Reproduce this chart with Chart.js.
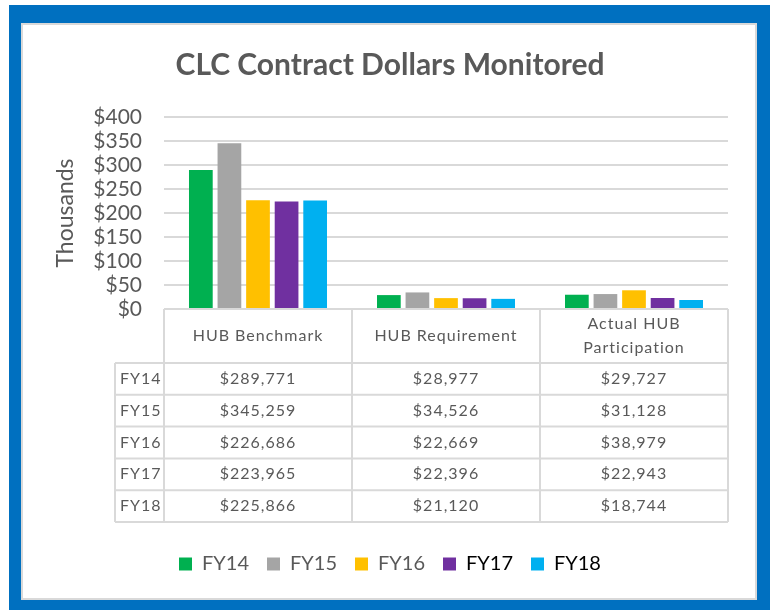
<!DOCTYPE html>
<html>
<head>
<meta charset="utf-8">
<script src="https://cdn.jsdelivr.net/npm/chart.js@4.4.1/dist/chart.umd.min.js"></script>
<style>
  html, body { margin: 0; padding: 0; background: #ffffff; width: 770px; height: 610px; overflow: hidden; }
  #outer { position: absolute; left: 9px; top: 5px; width: 761px; height: 605px; background: #0070C0; }
  #inner { position: absolute; left: 21px; top: 23px; width: 736px; height: 577px; background: #ffffff;
           box-sizing: border-box; border: 2px solid #d9d9d9; }
  #c { position: absolute; left: 0; top: 0; }
</style>
</head>
<body>
<div id="outer"></div>
<div id="inner"></div>
<canvas id="c" width="770" height="610"></canvas>
<script>
// ---- data ----
const categories = ["HUB Benchmark", "HUB Requirement", ["Actual HUB", "Participation"]];
const seriesNames = ["FY14", "FY15", "FY16", "FY17", "FY18"];
const fy14 = [289771, 28977, 29727];
const fy15 = [345259, 34526, 31128];
const fy16 = [226686, 22669, 38979];
const fy17 = [223965, 22396, 22943];
const fy18 = [225866, 21120, 18744];
const yTicks = [0, 50000, 100000, 150000, 200000, 250000, 300000, 350000, 400000];

const seriesValues = [fy14, fy15, fy16, fy17, fy18];
const colors = ["#00B050", "#A5A5A5", "#FFC000", "#7030A0", "#00B0F0"];
const legendTextColors = ["#595959", "#595959", "#595959", "#000000", "#000000"];
const FONT = "Lato, 'Open Sans', sans-serif";

function money(v) { return "$" + v.toLocaleString("en-US"); }

const tablePlugin = {
  id: "dataTable",
  afterDraw(chart) {
    const ctx = chart.ctx;
    const x = chart.scales.x;
    const area = chart.chartArea;
    const top = area.bottom;
    const headerH = 54;
    const rowH = 31.8;
    const labelW = 49;
    const left = area.left, right = area.right;
    const edges = [left];
    for (let i = 0; i < categories.length - 1; i++) edges.push(x.getPixelForValue(i + 0.5));
    edges.push(right);
    const rowsTop = top + headerH;
    const bottom = rowsTop + rowH * seriesNames.length;

    ctx.save();
    ctx.strokeStyle = "#d9d9d9";
    ctx.lineWidth = 2;
    ctx.beginPath();
    ctx.moveTo(left, top); ctx.lineTo(right, top);
    for (let r = 0; r <= seriesNames.length; r++) {
      const y = rowsTop + r * rowH;
      ctx.moveTo(left - labelW, y); ctx.lineTo(right, y);
    }
    edges.forEach(ex => { ctx.moveTo(ex, top); ctx.lineTo(ex, bottom); });
    ctx.moveTo(left - labelW, rowsTop); ctx.lineTo(left - labelW, bottom);
    ctx.stroke();

    ctx.fillStyle = "#595959";
    ctx.textBaseline = "middle";
    try { ctx.letterSpacing = "1px"; } catch (e) {}
    // header (category names)
    ctx.font = "16px " + FONT;
    ctx.textAlign = "center";
    categories.forEach((cat, c) => {
      const lines = Array.isArray(cat) ? cat : [cat];
      const cx = (edges[c] + edges[c + 1]) / 2;
      const cy = top + headerH / 2;
      const lh = 24;
      lines.forEach((ln, k) => {
        ctx.fillText(ln, cx, cy + (k - (lines.length - 1) / 2) * lh);
      });
    });
    // rows
    seriesNames.forEach((name, r) => {
      const cy = rowsTop + r * rowH + rowH / 2;
      ctx.textAlign = "left";
      ctx.fillText(name, left - labelW + 5, cy);
      ctx.textAlign = "center";
      seriesValues[r].forEach((v, c) => {
        ctx.fillText(money(v), (edges[c] + edges[c + 1]) / 2, cy);
      });
    });
    ctx.restore();
  }
};

new Chart(document.getElementById("c"), {
  type: "bar",
  data: {
    labels: categories,
    datasets: seriesNames.map((n, i) => ({
      label: n,
      data: seriesValues[i],
      backgroundColor: colors[i],
      borderWidth: 0,
      categoryPercentage: 0.76,
      barPercentage: 0.83
    }))
  },
  options: {
    responsive: false,
    animation: false,
    devicePixelRatio: 1,
    layout: { padding: { left: 52, right: 42, top: 0, bottom: 26 } },
    plugins: {
      tooltip: { enabled: false },
      title: {
        display: true,
        text: "CLC Contract Dollars Monitored",
        color: "#595959",
        font: { family: FONT, size: 30, weight: "bold" },
        padding: { top: 47, bottom: 34 }
      },
      legend: {
        position: "bottom",
        labels: {
          boxWidth: 13,
          boxHeight: 13,
          padding: 18,
          font: { family: FONT, size: 20 },
          generateLabels(chart) {
            return chart.data.datasets.map((ds, i) => ({
              text: ds.label,
              fillStyle: ds.backgroundColor,
              strokeStyle: ds.backgroundColor,
              lineWidth: 0,
              fontColor: legendTextColors[i],
              datasetIndex: i,
              hidden: false
            }));
          }
        }
      }
    },
    scales: {
      x: {
        grid: { display: false, drawTicks: false },
        border: { display: false },
        ticks: { display: false },
        afterFit(s) { s.height = 227; }
      },
      y: {
        min: 0,
        max: 400000,
        afterBuildTicks(s) { s.ticks = yTicks.map(v => ({ value: v })); },
        grid: { color: "#d9d9d9", lineWidth: 2, drawTicks: false },
        border: { display: false },
        ticks: {
          color: "#595959",
          font: { family: FONT, size: 21 },
          padding: 22,
          autoSkip: false,
          callback: v => "$" + (v / 1000)
        },
        title: {
          display: true,
          text: "Thousands",
          color: "#595959",
          font: { family: FONT, size: 23 },
          padding: { top: 0, bottom: 0 }
        },
        afterFit(s) { s.width = 112; }
      }
    }
  },
  plugins: [tablePlugin]
});
</script>
</body>
</html>
